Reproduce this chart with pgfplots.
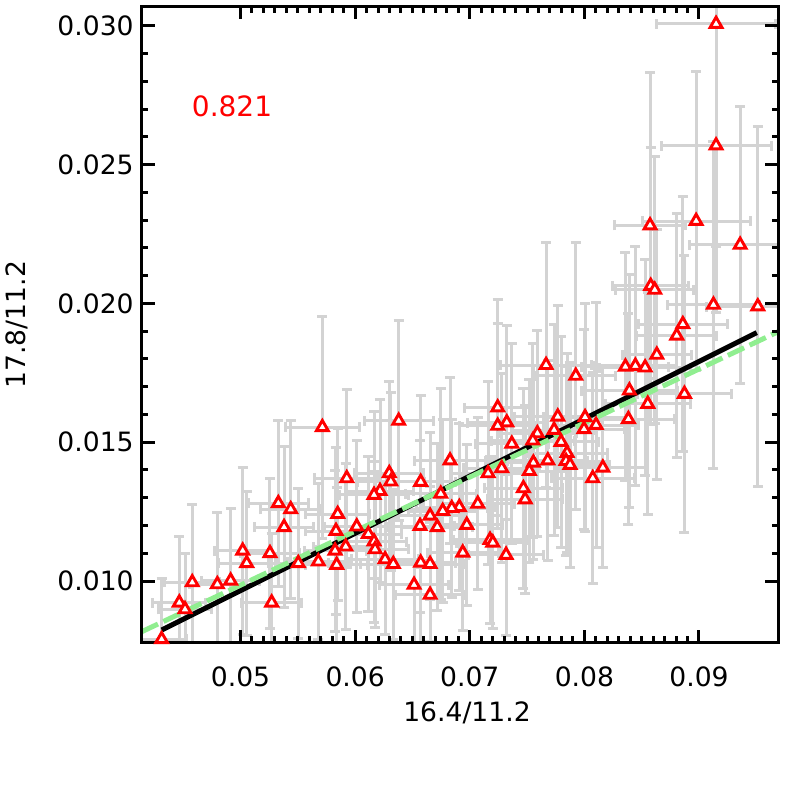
\documentclass[border=0pt]{standalone}
\usepackage{fontspec}
\setmainfont{DejaVu Sans}
\usepackage{pgfplots}
\pgfplotsset{compat=1.18}
\usepackage{pgfplotstable}
\definecolor{errgray}{RGB}{211,211,211}
\definecolor{fitgreen}{RGB}{144,238,144}
\pgfplotstableread{
x y ex ey
0.09149 0.03007 0.0052 0.0080
0.09149 0.02569 0.0048 0.0060
0.08975 0.02297 0.0047 0.0054
0.08573 0.02281 0.0031 0.0055
0.09359 0.02211 0.0044 0.0050
0.08579 0.02063 0.0033 0.0050
0.08614 0.02049 0.0034 0.0048
0.09126 0.01995 0.0040 0.0059
0.09513 0.01989 0.0045 0.0065
0.08859 0.01925 0.0039 0.0046
0.08806 0.01884 0.0035 0.0044
0.08632 0.01815 0.0030 0.0045
0.07666 0.01778 0.0040 0.0044
0.08358 0.01772 0.0038 0.0041
0.08445 0.01775 0.0036 0.0043
0.08530 0.01769 0.0040 0.0039
0.07925 0.01739 0.0035 0.0048
0.08393 0.01686 0.0042 0.0042
0.08873 0.01674 0.0041 0.0050
0.08553 0.01638 0.0037 0.0040
0.07244 0.01625 0.0029 0.0039
0.07768 0.01592 0.0038 0.0040
0.08006 0.01590 0.0036 0.0041
0.08384 0.01583 0.0040 0.0038
0.06380 0.01577 0.0030 0.0036
0.07323 0.01571 0.0034 0.0035
0.08102 0.01562 0.0037 0.0044
0.07244 0.01559 0.0033 0.0037
0.05714 0.01554 0.0032 0.0040
0.07736 0.01544 0.0036 0.0038
0.07997 0.01547 0.0035 0.0036
0.07590 0.01532 0.0034 0.0037
0.07550 0.01506 0.0036 0.0035
0.07367 0.01494 0.0032 0.0036
0.07797 0.01501 0.0033 0.0038
0.07849 0.01461 0.0035 0.0036
0.07840 0.01432 0.0036 0.0034
0.07875 0.01418 0.0034 0.0037
0.07681 0.01434 0.0035 0.0036
0.07555 0.01426 0.0033 0.0035
0.07520 0.01396 0.0034 0.0033
0.06828 0.01434 0.0031 0.0030
0.07279 0.01406 0.0033 0.0034
0.07160 0.01388 0.0032 0.0033
0.05927 0.01370 0.0028 0.0032
0.06298 0.01388 0.0030 0.0033
0.06311 0.01358 0.0029 0.0032
0.06572 0.01357 0.0030 0.0031
0.06217 0.01324 0.0029 0.0033
0.06165 0.01310 0.0030 0.0030
0.06747 0.01314 0.0031 0.0038
0.07468 0.01334 0.0034 0.0036
0.07483 0.01294 0.0033 0.0034
0.05330 0.01280 0.0026 0.0030
0.05438 0.01258 0.0026 0.0032
0.07070 0.01278 0.0032 0.0031
0.06909 0.01266 0.0031 0.0030
0.06843 0.01262 0.0031 0.0032
0.06764 0.01252 0.0030 0.0033
0.05848 0.01241 0.0028 0.0031
0.06654 0.01235 0.0030 0.0030
0.06974 0.01202 0.0031 0.0029
0.06566 0.01198 0.0030 0.0031
0.06717 0.01194 0.0031 0.0030
0.05380 0.01194 0.0026 0.0029
0.05833 0.01180 0.0027 0.0030
0.06014 0.01196 0.0028 0.0031
0.06115 0.01169 0.0029 0.0028
0.06165 0.01142 0.0028 0.0029
0.07177 0.01148 0.0032 0.0030
0.07201 0.01138 0.0032 0.0031
0.06174 0.01114 0.0029 0.0028
0.05019 0.01109 0.0025 0.0030
0.05257 0.01100 0.0026 0.0027
0.05825 0.01109 0.0027 0.0029
0.05918 0.01124 0.0028 0.0030
0.06939 0.01102 0.0031 0.0028
0.07317 0.01094 0.0033 0.0029
0.06261 0.01078 0.0029 0.0027
0.05054 0.01064 0.0025 0.0026
0.05679 0.01070 0.0027 0.0028
0.05504 0.01064 0.0026 0.0027
0.05839 0.01058 0.0027 0.0028
0.06333 0.01061 0.0029 0.0027
0.06572 0.01066 0.0030 0.0029
0.06654 0.01061 0.0030 0.0028
0.04579 0.00995 0.0024 0.0028
0.04798 0.00988 0.0024 0.0026
0.04914 0.01001 0.0025 0.0026
0.06514 0.00986 0.0030 0.0027
0.06654 0.00950 0.0030 0.0026
0.04466 0.00922 0.0023 0.0024
0.04516 0.00898 0.0023 0.0020
0.05272 0.00922 0.0026 0.0025
0.04312 0.00790 0.0022 0.0022
0.08161 0.01408 0.0037 0.0036
0.08073 0.01370 0.0036 0.0038
}\data

\begin{document}
\begin{tikzpicture}
\path[use as bounding box] (-70.85pt,-71.65pt) rectangle (322.15pt,321.35pt);
\begin{axis}[
  at={(0pt,0pt)}, anchor=south west,
  scale only axis, width=318.3pt, height=318.1pt,
  xmin=0.04138, xmax=0.09692, ymin=0.007777, ymax=0.03070,
  xtick={0.05,0.06,0.07,0.08,0.09},
  ytick={0.010,0.015,0.020,0.025,0.030},
  minor x tick num=9, minor y tick num=4,
  scaled ticks=false,
  /pgf/number format/assume math mode=true,
  xticklabel style={/pgf/number format/fixed, /pgf/number format/fixed zerofill, /pgf/number format/precision=2, yshift=-8.25pt},
  yticklabel style={/pgf/number format/fixed, /pgf/number format/fixed zerofill, /pgf/number format/precision=3, xshift=-0.5pt},
  tick label style={font=\fontsize{13.3}{16}\selectfont},
  label style={font=\fontsize{13.3}{16}\selectfont},
  axis line style={line width=1.5pt},
  tick style={black, line width=1.5pt},
  major tick length=6.5pt, minor tick length=3.2pt,
  tick align=inside,
  axis on top,
  xlabel={16.4/11.2}, ylabel={17.8/11.2},
  xlabel style={at={(axis description cs:0.511,0)}, anchor=base, yshift=-39.2pt},
  ylabel style={at={(axis description cs:-0.1833,0.5)}, anchor=base},
]
\addplot[only marks, mark=none,
  error bars/.cd, x dir=both, x explicit, y dir=both, y explicit,
  error bar style={errgray, line width=1.5pt},
  error mark options={errgray, line width=1.5pt, mark size=2.5pt, rotate=90}]
  table[x=x, y=y, x error=ex, y error=ey] {\data};
\addplot[only marks, mark=triangle*, mark size=3.4pt,
  mark options={draw=red, fill=white, line width=1.45pt}]
  table[x=x, y=y] {\data};
\addplot[black, line width=2.5pt] coordinates {(0.04312,0.008234) (0.09504,0.018948)};
\addplot[fitgreen, line width=2.5pt, dash pattern=on 9pt off 3pt] coordinates {(0.04138,0.008173) (0.09692,0.018984)};
\node[red, font=\fontsize{14}{16}\selectfont] at (axis cs:0.04926,0.02712) {0.821};
\end{axis}
\end{tikzpicture}
\end{document}
